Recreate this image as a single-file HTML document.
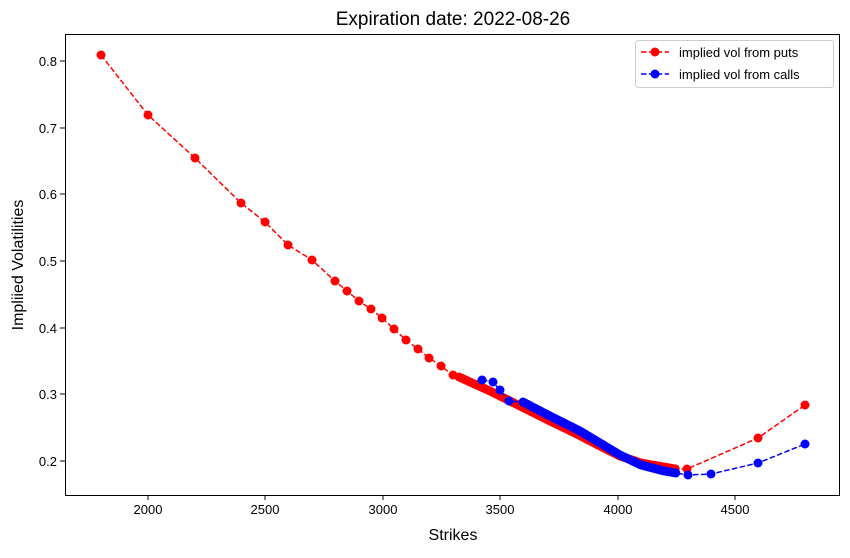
<!DOCTYPE html>
<html><head><meta charset="utf-8"><style>
body{margin:0;background:#fff;}
svg text{font-family:"Liberation Sans","DejaVu Sans",sans-serif;}
</style></head><body>
<svg id="s" width="850" height="553" xmlns="http://www.w3.org/2000/svg">
<rect width="850" height="553" fill="#fff"/>
<text x="453" y="25" font-size="19" text-anchor="middle">Expiration date: 2022-08-26</text>
<g id="plot"></g>
<rect x="65.5" y="34.5" width="774" height="461" fill="none" stroke="#000" stroke-width="1"/>
<g font-size="13" text-anchor="middle">
<line x1="148" y1="495" x2="148" y2="500" stroke="#000"/><text x="148" y="514">2000</text>
<line x1="265" y1="495" x2="265" y2="500" stroke="#000"/><text x="265" y="514">2500</text>
<line x1="383" y1="495" x2="383" y2="500" stroke="#000"/><text x="383" y="514">3000</text>
<line x1="500" y1="495" x2="500" y2="500" stroke="#000"/><text x="500" y="514">3500</text>
<line x1="618" y1="495" x2="618" y2="500" stroke="#000"/><text x="618" y="514">4000</text>
<line x1="735" y1="495" x2="735" y2="500" stroke="#000"/><text x="735" y="514">4500</text>
</g>
<g font-size="13" text-anchor="end">
<line x1="60" y1="461" x2="65" y2="461" stroke="#000"/><text x="57" y="466">0.2</text>
<line x1="60" y1="394" x2="65" y2="394" stroke="#000"/><text x="57" y="399">0.3</text>
<line x1="60" y1="328" x2="65" y2="328" stroke="#000"/><text x="57" y="333">0.4</text>
<line x1="60" y1="261" x2="65" y2="261" stroke="#000"/><text x="57" y="266">0.5</text>
<line x1="60" y1="194" x2="65" y2="194" stroke="#000"/><text x="57" y="199">0.6</text>
<line x1="60" y1="128" x2="65" y2="128" stroke="#000"/><text x="57" y="133">0.7</text>
<line x1="60" y1="61" x2="65" y2="61" stroke="#000"/><text x="57" y="66">0.8</text>
</g>
<text x="453" y="540" font-size="16" text-anchor="middle">Strikes</text>
<text transform="translate(23,265) rotate(-90)" font-size="16" text-anchor="middle">Impliied Volatilities</text>
<rect x="635.5" y="40.5" width="198" height="47" rx="3" fill="#fff" stroke="#ccc"/>
<line x1="641" y1="52" x2="669" y2="52" stroke="red" stroke-width="1.5" stroke-dasharray="5.5,2.4"/><circle cx="655" cy="52" r="4.5" fill="red"/>
<text x="679" y="57" font-size="13">implied vol from puts</text>
<line x1="641" y1="74" x2="669" y2="74" stroke="blue" stroke-width="1.5" stroke-dasharray="5.5,2.4"/><circle cx="655" cy="74" r="4.5" fill="blue"/>
<text x="679" y="79" font-size="13">implied vol from calls</text>
</svg>
<script>
function interp(a,x){for(let i=0;i<a.length-1;i++){if(x>=a[i][0]&&x<=a[i+1][0]){let t=(x-a[i][0])/(a[i+1][0]-a[i][0]);return a[i][1]+t*(a[i+1][1]-a[i][1]);}}return a[a.length-1][1];}
function series(pre,densA,dx0,dx1,post){let p=pre.slice();for(let x=dx0;x<=dx1;x+=2.35)p.push([x,interp(densA,x)]);return p.concat(post);}
var puts=series([[101,55],[148,115],[195,158],[241,203],[265,222],[288,245],[312,260],[335,281],[347,291],[359,301],[371,309],[382,318],[394,329],[406,340],[418,349],[429,358],[441,366],[453,375]],
[[459,377],[490,391],[520,406],[550,421],[575,433],[600,446],[620,456],[641,463],[664,467],[676,469]],459,676,[[687,469],[758,438],[805,405]]);
var calls=series([[482,380],[493,382],[500,390],[509,401]],[[523,402],[550,416],[580,431],[600,443],[620,455],[641,465],[664,471],[676,473]],523,676,[[688,475],[711,474],[758,463],[805,444]]);
var g=document.getElementById('plot'),h='';
function draw(p,c){h+='<polyline fill="none" stroke="'+c+'" stroke-width="1.5" stroke-dasharray="5.5,2.4" points="'+p.map(q=>q[0]+','+q[1]).join(' ')+'"/>';p.forEach(q=>{h+='<circle cx="'+q[0]+'" cy="'+q[1]+'" r="4.5" fill="'+c+'"/>';});}
draw(puts,'red');draw(calls,'blue');g.innerHTML=h;
</script>
</body></html>
